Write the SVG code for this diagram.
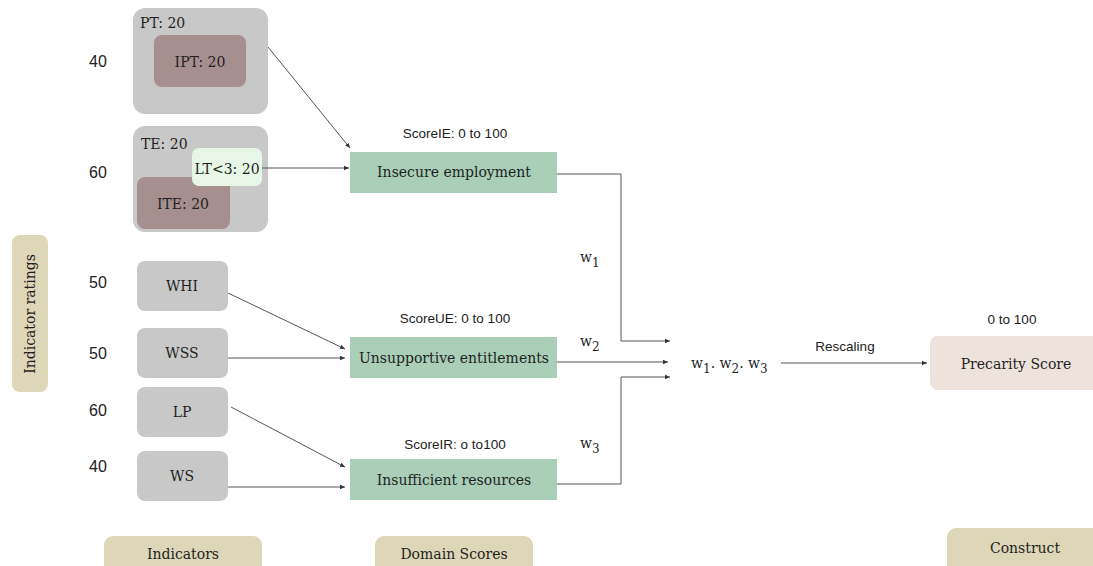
<svg xmlns="http://www.w3.org/2000/svg" width="1093" height="566" viewBox="0 0 1093 566">
<defs>
<marker id="ah" markerWidth="6" markerHeight="6" refX="5" refY="3" orient="auto" markerUnits="userSpaceOnUse">
<path d="M0,0.8 L5,3 L0,5.2 Z" fill="#333"/>
</marker>
<style>
.grey{fill:#c8c8c8}
.mauve{fill:#a68f8f}
.green{fill:#a9cfb8}
.beige{fill:#ddd6b7}
.lab{font-family:"DejaVu Serif","Liberation Serif",serif;font-size:14px;fill:#1f1f1f}
.num{font-family:"Liberation Sans",Arial,sans-serif;font-size:16px;fill:#222}
.sc{font-family:"Liberation Sans",Arial,sans-serif;font-size:13.5px;fill:#222}
.w{font-family:"DejaVu Serif","Liberation Serif",serif;font-size:14px;fill:#1f1f1f}
.ws{font-size:12px}
.c{text-anchor:middle}
.ln{fill:none;stroke:#555;stroke-width:1}
</style>
</defs>
<rect width="1093" height="566" fill="#fff"/>

<g id="ratings">
<text class="num" x="89" y="67">40</text>
<text class="num" x="89" y="178">60</text>
<text class="num" x="89" y="288">50</text>
<text class="num" x="89" y="359">50</text>
<text class="num" x="89" y="416">60</text>
<text class="num" x="89" y="472">40</text>
</g>

<g id="indicator-ratings">
<rect class="beige" x="12" y="235" width="36" height="157" rx="8"/>
<text class="lab c" transform="translate(35,314) rotate(-90)">Indicator ratings</text>
</g>

<g id="PT">
<rect class="grey" x="133" y="8" width="135" height="106" rx="12"/>
<text class="lab" x="140" y="28">PT: 20</text>
</g>
<g id="IPT">
<rect class="mauve" x="154" y="35" width="92" height="52" rx="8"/>
<text class="lab c" x="200" y="67">IPT: 20</text>
</g>

<g id="TE">
<rect class="grey" x="133" y="126" width="135" height="106" rx="12"/>
<text class="lab" x="141" y="149">TE: 20</text>
</g>
<g id="ITE">
<rect class="mauve" x="137" y="177" width="93" height="52" rx="8"/>
<text class="lab c" x="183" y="209">ITE: 20</text>
</g>
<g id="LT3">
<rect fill="#e7f7e5" x="192" y="148" width="70" height="38" rx="7"/>
<text class="lab c" x="227" y="174">LT&lt;3: 20</text>
</g>

<g id="WHI">
<rect class="grey" x="137" y="261" width="91" height="50" rx="8"/>
<text class="lab c" x="182" y="291">WHI</text>
</g>
<g id="WSS">
<rect class="grey" x="137" y="328" width="91" height="50" rx="8"/>
<text class="lab c" x="182" y="358">WSS</text>
</g>
<g id="LP">
<rect class="grey" x="137" y="387" width="91" height="50" rx="8"/>
<text class="lab c" x="182" y="417">LP</text>
</g>
<g id="WS">
<rect class="grey" x="137" y="451" width="91" height="50" rx="8"/>
<text class="lab c" x="182" y="481">WS</text>
</g>

<g id="insecure-employment">
<text class="sc c" x="455" y="138">ScoreIE: 0 to 100</text>
<rect class="green" x="350" y="152" width="207" height="41"/>
<text class="lab c" x="454" y="177">Insecure employment</text>
</g>
<g id="unsupportive-entitlements">
<text class="sc c" x="455" y="323">ScoreUE: 0 to 100</text>
<rect class="green" x="350" y="337" width="207" height="41"/>
<text class="lab c" x="454" y="363">Unsupportive entitlements</text>
</g>
<g id="insufficient-resources">
<text class="sc c" x="455" y="449">ScoreIR: o to100</text>
<rect class="green" x="350" y="459" width="207" height="41"/>
<text class="lab c" x="454" y="485">Insufficient resources</text>
</g>

<g id="weights">
<text class="w" x="580" y="262">w<tspan class="ws" dy="5">1</tspan></text>
<text class="w" x="580" y="346">w<tspan class="ws" dy="5">2</tspan></text>
<text class="w" x="580" y="448">w<tspan class="ws" dy="5">3</tspan></text>
</g>
<g id="product">
<text class="w" x="691" y="368">w<tspan class="ws" dy="5">1</tspan><tspan dy="-5">. w</tspan><tspan class="ws" dy="5">2</tspan><tspan dy="-5">. w</tspan><tspan class="ws" dy="5">3</tspan></text>
</g>

<g id="precarity-score">
<text class="sc c" x="1012" y="324">0 to 100</text>
<rect fill="#ede3dc" x="930" y="336" width="175" height="54" rx="8"/>
<text class="lab c" x="1016" y="369">Precarity Score</text>
</g>

<g id="indicators-label">
<rect class="beige" x="104" y="536" width="158" height="40" rx="9"/>
<text class="lab c" x="183" y="559">Indicators</text>
</g>
<g id="domain-label">
<rect class="beige" x="375" y="536" width="158" height="40" rx="9"/>
<text class="lab c" x="454" y="559">Domain Scores</text>
</g>
<g id="construct-label">
<rect class="beige" x="947" y="528" width="160" height="48" rx="9"/>
<text class="lab c" x="1025" y="553">Construct</text>
</g>

<g id="connectors">
<line class="ln" x1="268" y1="47" x2="350" y2="148" marker-end="url(#ah)"/>
<line class="ln" x1="262" y1="168" x2="349" y2="168" marker-end="url(#ah)"/>
<line class="ln" x1="228" y1="293" x2="345" y2="349" marker-end="url(#ah)"/>
<line class="ln" x1="228" y1="358" x2="345" y2="358" marker-end="url(#ah)"/>
<line class="ln" x1="231" y1="407" x2="345" y2="467" marker-end="url(#ah)"/>
<line class="ln" x1="228" y1="487" x2="345" y2="487" marker-end="url(#ah)"/>
<polyline class="ln" points="557,174 621,174 621,341 670,341" marker-end="url(#ah)"/>
<line class="ln" x1="557" y1="362" x2="668" y2="362" marker-end="url(#ah)"/>
<polyline class="ln" points="557,484 621,484 621,377 670,377" marker-end="url(#ah)"/>
<line class="ln" x1="781" y1="363" x2="927" y2="363" marker-end="url(#ah)"/>
<text class="sc c" x="845" y="351">Rescaling</text>
</g>
</svg>
